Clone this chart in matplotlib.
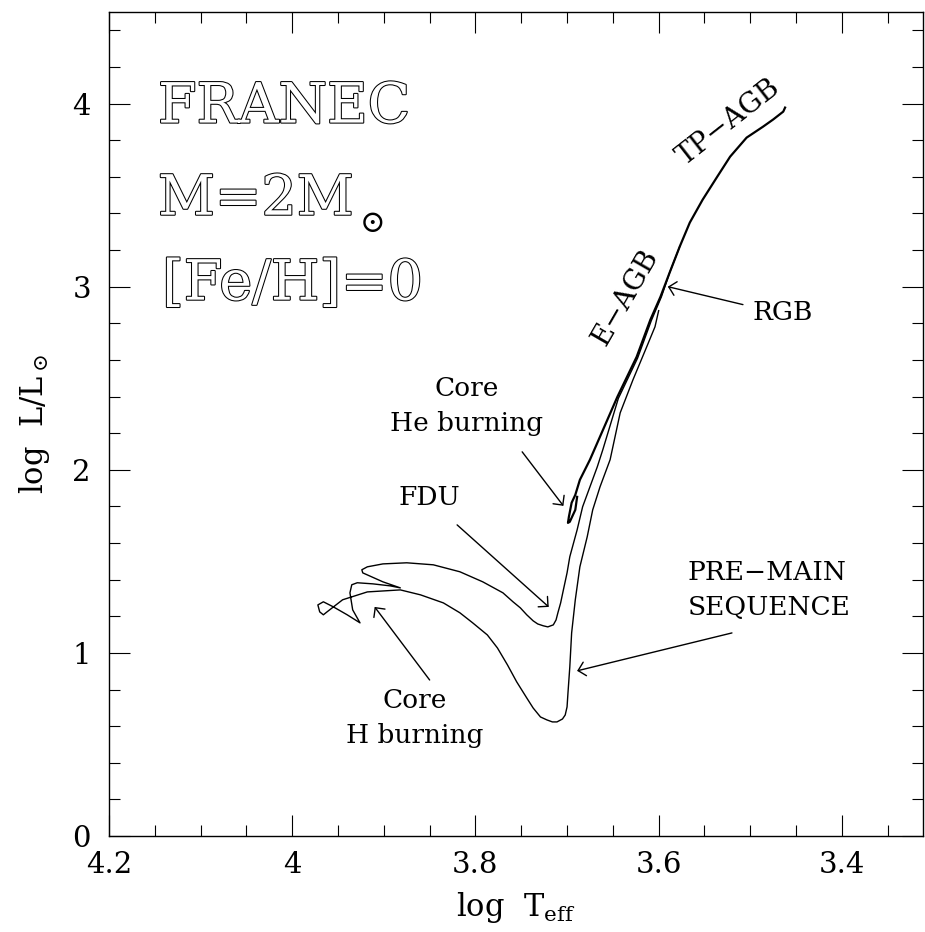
import matplotlib
matplotlib.use('Agg')
import matplotlib.pyplot as plt
import matplotlib.patheffects as pe
from matplotlib.ticker import MultipleLocator, FixedLocator, FixedFormatter

# ---------------- data (log Teff, log L/Lsun) ----------------
pms_logT = [3.600, 3.604, 3.613, 3.628, 3.642, 3.653, 3.664, 3.672, 3.678, 3.686,
            3.691, 3.695, 3.697, 3.699, 3.700, 3.702, 3.705, 3.711, 3.716, 3.722,
            3.729, 3.737, 3.744, 3.755, 3.765, 3.776, 3.787, 3.803, 3.817, 3.835,
            3.860, 3.882, 3.918, 3.945, 3.962, 3.966, 3.970, 3.972, 3.966, 3.955]
pms_logL = [2.869, 2.781, 2.672, 2.492, 2.311, 2.055, 1.907, 1.781, 1.634, 1.470,
            1.290, 1.109, 0.923, 0.781, 0.705, 0.661, 0.639, 0.623, 0.623, 0.634,
            0.650, 0.699, 0.754, 0.842, 0.934, 1.027, 1.098, 1.164, 1.219, 1.273,
            1.317, 1.344, 1.333, 1.290, 1.224, 1.208, 1.224, 1.262, 1.279, 1.251]

ms_logT = [3.955, 3.940, 3.926, 3.934, 3.937, 3.935, 3.929, 3.912, 3.893, 3.882,
           3.901, 3.923, 3.924, 3.918, 3.901, 3.875, 3.846, 3.817, 3.792, 3.770,
           3.759, 3.751, 3.744, 3.737, 3.732, 3.726, 3.721, 3.715, 3.712, 3.710,
           3.707, 3.704, 3.700, 3.697, 3.689, 3.683, 3.675, 3.667]
ms_logL = [1.251, 1.208, 1.164, 1.235, 1.328, 1.372, 1.383, 1.377, 1.366, 1.355,
           1.388, 1.437, 1.454, 1.470, 1.486, 1.492, 1.481, 1.443, 1.388, 1.328,
           1.279, 1.246, 1.208, 1.175, 1.158, 1.148, 1.142, 1.153, 1.180, 1.219,
           1.273, 1.344, 1.437, 1.525, 1.672, 1.798, 1.907, 2.016]

rgb_logT = [3.667, 3.661, 3.644, 3.623, 3.608, 3.597, 3.588, 3.577]
rgb_logL = [2.016, 2.109, 2.390, 2.610, 2.815, 2.945, 3.077, 3.219]

heb_logT = [3.689, 3.691, 3.697, 3.699, 3.698, 3.695, 3.691, 3.686]
heb_logL = [1.852, 1.781, 1.716, 1.710, 1.743, 1.820, 1.863, 1.945]

agb_logT = [3.686, 3.675, 3.645, 3.624, 3.609, 3.598, 3.588, 3.577, 3.566, 3.552,
            3.536, 3.522, 3.504, 3.486, 3.475, 3.464, 3.462]
agb_logL = [1.945, 2.055, 2.399, 2.617, 2.820, 2.945, 3.077, 3.219, 3.350, 3.475,
            3.601, 3.710, 3.814, 3.874, 3.913, 3.956, 3.978]

xtick_values = [4.2, 4.0, 3.8, 3.6, 3.4]
xtick_labels = ['4.2', '4', '3.8', '3.6', '3.4']
ytick_values = [0, 1, 2, 3, 4]
ytick_labels = ['0', '1', '2', '3', '4']

# annotation texts: (text, position, horizontal alignment)
labels = [
    ('Core\nHe burning', (3.810, 2.347), 'center'),
    ('FDU', (3.850, 1.847), 'center'),
    ('Core\nH burning', (3.866, 0.642), 'center'),
    ('PRE\u2212MAIN\nSEQUENCE', (3.568, 1.344), 'left'),
    ('RGB', (3.498, 2.858), 'left'),
]
# arrows: (tail, tip)
arrows = [
    ((3.749, 2.098), (3.704, 1.803)),
    ((3.820, 1.699), (3.720, 1.251)),
    ((3.850, 0.852), (3.910, 1.251)),
    ((3.520, 1.109), (3.689, 0.902)),
    ((3.508, 2.902), (3.590, 3.000)),
]

# ---------------- figure ----------------
plt.rcParams['font.family'] = ['DejaVu Serif']
plt.rcParams['mathtext.fontset'] = 'dejavuserif'

fig = plt.figure(figsize=(9.25, 9.32), dpi=100)
ax = fig.add_axes([109 / 925, 1 - 836 / 932, (922.5 - 109) / 925, (836 - 12) / 932])

ax.plot(pms_logT + ms_logT[1:] + rgb_logT[1:], pms_logL + ms_logL[1:] + rgb_logL[1:],
        color='black', lw=1.0, solid_joinstyle='round')
ax.plot(heb_logT + agb_logT[1:], heb_logL + agb_logL[1:], color='black', lw=1.6,
        solid_joinstyle='round')

ax.set_xlim(4.2, 3.312)
ax.set_ylim(0, 4.5)

ax.xaxis.set_major_locator(FixedLocator(xtick_values))
ax.xaxis.set_major_formatter(FixedFormatter(xtick_labels))
ax.xaxis.set_minor_locator(MultipleLocator(0.05))
ax.yaxis.set_major_locator(FixedLocator(ytick_values))
ax.yaxis.set_major_formatter(FixedFormatter(ytick_labels))
ax.yaxis.set_minor_locator(MultipleLocator(0.2))

ax.tick_params(which='both', direction='in', top=True, right=True, width=0.8,
               labelsize=21)
ax.tick_params(which='major', length=15)
ax.tick_params(which='minor', length=8)
ax.tick_params(axis='x', pad=11)
ax.tick_params(axis='y', pad=13)
for s in ax.spines.values():
    s.set_linewidth(1.0)

ax.set_xlabel(r'log  T$_{\rm eff}$', fontsize=22)
ax.set_ylabel(r'log  L/L$_\odot$', fontsize=22)
ax.xaxis.set_label_coords(0.5, -0.066)
ax.yaxis.set_label_coords(-0.070, 0.5)

for txt, pos, ha in labels:
    ax.text(pos[0], pos[1], txt, ha=ha, va='center', fontsize=19, linespacing=1.5)

for tail, tip in arrows:
    ax.annotate('', xy=tip, xytext=tail,
                arrowprops=dict(arrowstyle='->,head_length=0.5,head_width=0.5',
                                lw=1.0, color='black', shrinkA=0, shrinkB=0))

ax.text(3.636, 2.94, 'E\u2212AGB', rotation=60, ha='center', va='center',
        fontsize=20, rotation_mode='anchor')
ax.text(3.524, 3.90, 'TP\u2212AGB', rotation=38, ha='center', va='center',
        fontsize=20, rotation_mode='anchor')

hollow = [pe.withStroke(linewidth=1.5, foreground='black')]
big = dict(fontsize=40, color='white', ha='left', va='baseline', path_effects=hollow)
ax.text(4.1465, 3.896, 'FRANEC', **big)
ax.text(4.1465, 3.393, 'M=2M', **big)
ax.text(3.914, 3.366, r'$\odot$', fontsize=22, color='black', ha='center',
        va='center_baseline')
ax.text(4.142, 2.929, '[Fe/H]=0', **big)

fig.savefig('out.png', dpi=100)
